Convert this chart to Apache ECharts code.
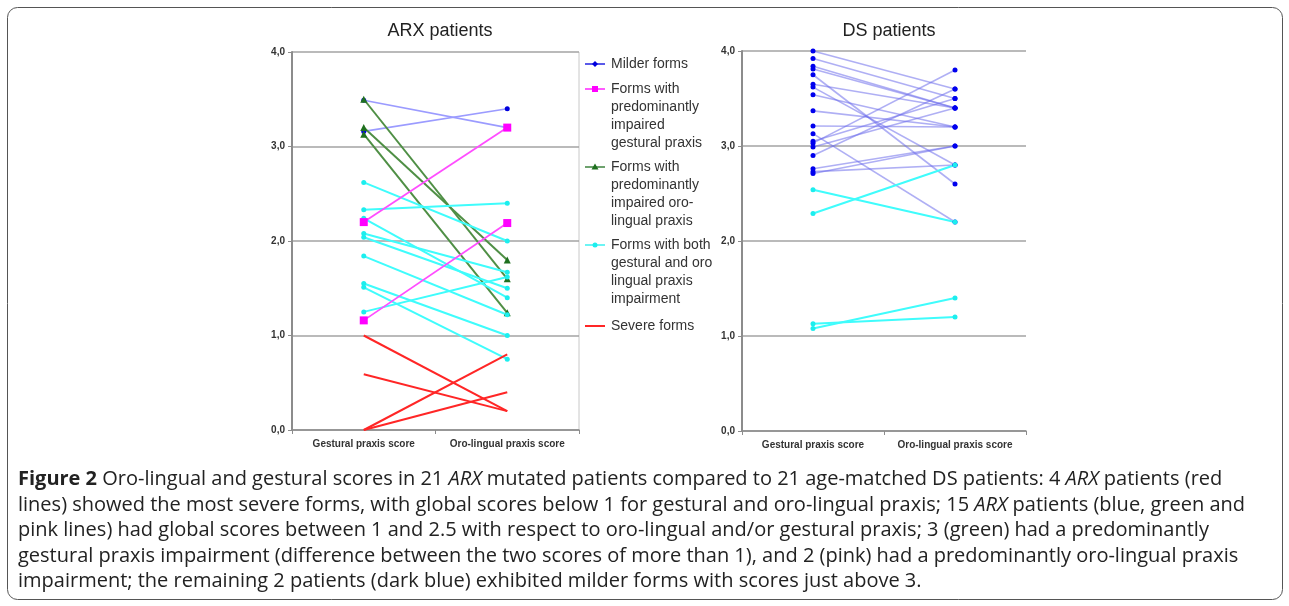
<!DOCTYPE html>
<html>
<head>
<meta charset="utf-8">
<script src="https://cdn.jsdelivr.net/npm/echarts@6/dist/echarts.min.js"></script>
<style>
html,body{margin:0;padding:0;background:#fff;}
#chart{width:1289px;height:606px;}
</style>
</head>
<body>
<div id="chart"></div>
<script>
// ---- data ----
const categories = ['Gestural praxis score', 'Oro-lingual praxis score'];
const yTicks = [0, 1, 2, 3, 4];

// ARX patients
const arxMilderGestural = [3.49, 3.16];
const arxMilderOro      = [3.20, 3.40];
const arxGestImpGestural = [2.20, 1.16];
const arxGestImpOro      = [3.20, 2.19];
const arxOroImpGestural = [3.50, 3.20, 3.13];
const arxOroImpOro      = [1.60, 1.80, 1.24];
const arxBothGestural = [2.62, 2.33, 2.24, 2.08, 2.04, 1.84, 1.55, 1.51, 1.25];
const arxBothOro      = [2.00, 2.40, 1.40, 1.67, 1.50, 1.22, 1.00, 0.75, 1.62];
const arxSevereGestural = [1.00, 0.59, 0.00, 0.00];
const arxSevereOro      = [0.20, 0.20, 0.80, 0.40];

// DS patients
const dsMilderGestural = [4.00, 3.92, 3.84, 3.81, 3.75, 3.65, 3.62, 3.54, 3.37, 3.21, 3.13, 3.05, 3.03, 2.99, 2.90, 2.76, 2.73, 2.71];
const dsMilderOro      = [3.60, 3.50, 3.40, 3.40, 2.60, 3.40, 2.80, 3.20, 3.20, 3.20, 2.20, 3.50, 3.80, 3.40, 3.60, 3.00, 2.80, 3.00];
const dsBothGestural = [2.54, 2.29, 1.13, 1.08];
const dsBothOro      = [2.20, 2.80, 1.20, 1.40];

const legendNames = [
  'Milder forms',
  'Forms with\npredominantly\nimpaired\ngestural praxis',
  'Forms with\npredominantly\nimpaired oro-\nlingual praxis',
  'Forms with both\ngestural and oro\nlingual praxis\nimpairment',
  'Severe forms'
];

const captionLines = [
  '{b|Figure 2} Oro-lingual and gestural scores in 21 {i|ARX} mutated patients compared to 21 age-matched DS patients: 4 {i|ARX} patients (red',
  'lines) showed the most severe forms, with global scores below 1 for gestural and oro-lingual praxis; 15 {i|ARX} patients (blue, green and',
  'pink lines) had global scores between 1 and 2.5 with respect to oro-lingual and/or gestural praxis; 3 (green) had a predominantly',
  'gestural praxis impairment (difference between the two scores of more than 1), and 2 (pink) had a predominantly oro-lingual praxis',
  'impairment; the remaining 2 patients (dark blue) exhibited milder forms with scores just above 3.'
];

// ---- styles ----
const styles = {
  milder:  {line: '#9b9bff', marker: '#0000dd', symbol: 'circle', size: 5, width: 1.6},
  dsMilder:{line: 'rgba(110,110,235,0.55)', marker: '#0000ee', symbol: 'circle', size: 5, width: 1.6},
  gestImp: {line: '#ff4dff', marker: '#ff00ff', symbol: 'rect', size: 8, width: 1.8},
  oroImp:  {line: '#4f8f45', marker: '#1f701f', symbol: 'triangle', size: 7, width: 2},
  both:    {line: '#3ffcfc', marker: '#1ceeee', symbol: 'circle', size: 5, width: 2},
  severe:  {line: '#ff2626', marker: '#ff2626', symbol: 'none', size: 0, width: 2}
};

const series = [];
function addGroup(g, o, st, axis) {
  for (let k = 0; k < g.length; k++) {
    series.push({
      type: 'line',
      xAxisIndex: axis, yAxisIndex: axis,
      data: [g[k], o[k]],
      symbol: st.symbol,
      symbolSize: st.size,
      showSymbol: st.symbol !== 'none',
      lineStyle: {color: st.line, width: st.width},
      itemStyle: {color: st.marker},
      emphasis: {disabled: true},
      silent: true,
      animation: false
    });
  }
}
addGroup(arxMilderGestural, arxMilderOro, styles.milder, 0);
addGroup(arxOroImpGestural, arxOroImpOro, styles.oroImp, 0);
addGroup(arxBothGestural, arxBothOro, styles.both, 0);
addGroup(arxGestImpGestural, arxGestImpOro, styles.gestImp, 0);
addGroup(arxSevereGestural, arxSevereOro, styles.severe, 0);
addGroup(dsMilderGestural, dsMilderOro, styles.dsMilder, 1);
addGroup(dsBothGestural, dsBothOro, styles.both, 1);

function xAx(i) {
  return {
    type: 'category', gridIndex: i, data: categories, boundaryGap: true,
    axisLine: {lineStyle: {color: '#8c8c8c', width: 1.5}},
    axisTick: {show: true, length: 4, lineStyle: {color: '#8c8c8c'}},
    axisLabel: {interval: 0, color: '#333', fontFamily: 'Liberation Sans', fontWeight: 'bold', fontSize: 10, margin: 9}
  };
}
function yAx(i) {
  return {
    type: 'value', gridIndex: i, min: yTicks[0], max: yTicks[yTicks.length - 1], interval: 1,
    axisLine: {show: true, lineStyle: {color: '#8c8c8c', width: 2}},
    axisTick: {show: true, length: 4, lineStyle: {color: '#8c8c8c'}},
    splitLine: {show: true, lineStyle: {color: '#a3a3a3', width: 1.5}},
    axisLabel: {color: '#333', fontFamily: 'Liberation Sans', fontWeight: 'bold', fontSize: 10, margin: 7,
      formatter: v => v.toFixed(1).replace('.', ',')}
  };
}

// legend (drawn as graphics to match multi-line layout)
const legendY = [64, 89, 167, 245, 326];
const legendLine = ['#0000dd', '#ff00ff', '#1f701f', '#1ceeee', '#ff2626'];
const legendFill = ['#0000dd', '#ff00ff', '#1f701f', '#1ceeee', null];
const legendMarkers = ['diamond', 'rect', 'triangle', 'circle', 'none'];
const graphics = [];
legendY.forEach((y, i) => {
  graphics.push({type: 'line', shape: {x1: 585, y1: y, x2: 605, y2: y}, style: {stroke: legendLine[i], lineWidth: i === 4 ? 2 : 1.3}});
  const f = legendFill[i];
  if (legendMarkers[i] === 'rect') graphics.push({type: 'rect', shape: {x: 592, y: y - 3, width: 6, height: 6}, style: {fill: f}});
  if (legendMarkers[i] === 'circle') graphics.push({type: 'circle', shape: {cx: 595, cy: y, r: 2.5}, style: {fill: f}});
  if (legendMarkers[i] === 'diamond') graphics.push({type: 'polygon', shape: {points: [[595, y - 3], [598, y], [595, y + 3], [592, y]]}, style: {fill: f}});
  if (legendMarkers[i] === 'triangle') graphics.push({type: 'polygon', shape: {points: [[595, y - 3.5], [598.5, y + 2.5], [591.5, y + 2.5]]}, style: {fill: f}});
  graphics.push({type: 'text', x: 611, y: y - 9, style: {text: legendNames[i], fill: '#333', font: '14px "Liberation Sans"', lineHeight: 18, verticalAlign: 'top'}});
});
// plot area right border (ARX)
graphics.push({type: 'line', shape: {x1: 579, y1: 52, x2: 579, y2: 430}, style: {stroke: '#c8c8c8', lineWidth: 1}});
// caption
const capFont = 20;
graphics.push({type: 'text', x: 18, y: 467, style: {
  text: captionLines.join('\n'), fill: '#222', font: capFont + 'px "Open Sans"', lineHeight: 25.5, verticalAlign: 'top',
  rich: {b: {fontWeight: 'bold', fontSize: capFont, fontFamily: 'Open Sans', fill: '#222', lineHeight: 25.5},
         i: {fontStyle: 'italic', fontSize: capFont, fontFamily: 'Open Sans', fill: '#222', lineHeight: 25.5}}
}});
// figure frame
graphics.push({type: 'rect', shape: {x: 7.5, y: 7.5, width: 1275, height: 592, r: 10}, style: {fill: 'none', stroke: '#555', lineWidth: 1}});

const option = {
  animation: false,
  title: [
    {text: 'ARX patients', left: 435, top: 17, textAlign: 'center', textStyle: {fontFamily: 'Liberation Sans', fontWeight: 'normal', fontSize: 18, color: '#222'}},
    {text: 'DS patients', left: 884, top: 17, textAlign: 'center', textStyle: {fontFamily: 'Liberation Sans', fontWeight: 'normal', fontSize: 18, color: '#222'}}
  ],
  grid: [
    {left: 292, width: 287, top: 52, height: 378},
    {left: 742, width: 284, top: 51, height: 380}
  ],
  xAxis: [xAx(0), xAx(1)],
  yAxis: [yAx(0), yAx(1)],
  series: series,
  graphic: graphics
};
const chart = echarts.init(document.getElementById('chart'), null, {renderer: 'canvas'});
chart.setOption(option);
</script>
</body>
</html>
